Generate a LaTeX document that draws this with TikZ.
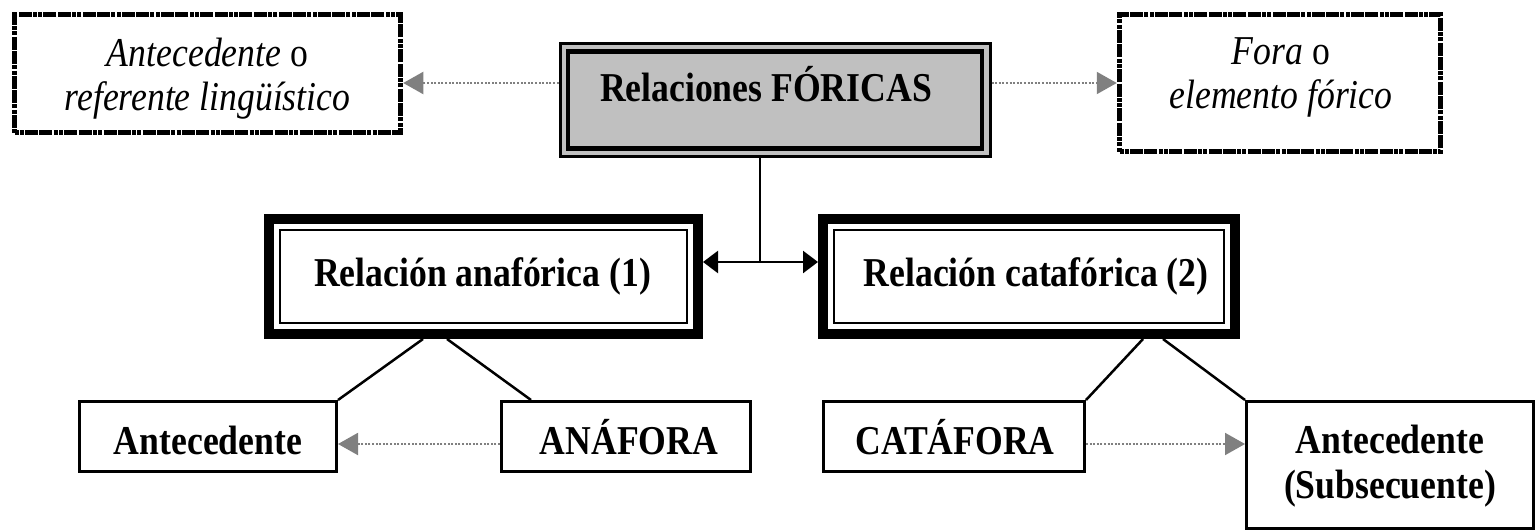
\documentclass[tikz,border=0pt]{standalone}
\usepackage{fontspec}
\setmainfont{Liberation Serif}[FakeStretch=0.87]
\usetikzlibrary{arrows.meta,calc}
\definecolor{boxgray}{RGB}{192,192,192}
\definecolor{arrgray}{RGB}{128,128,128}
\begin{document}
\begin{tikzpicture}[x=1pt,y=-1pt,
  btxt/.style={font=\fontsize{41}{45}\selectfont\bfseries, align=center, inner sep=0pt},
  itxt/.style={font=\fontsize{41}{44}\selectfont, align=center, inner sep=0pt},
  dotbox/.style={draw, line width=5.5pt, dash pattern={on 4pt off 1.3pt on 4pt off 1.3pt on 13pt off 1.3pt on 13pt off 1.3pt}, rectangle, inner sep=0pt},
  topouter/.style={draw, line width=3pt, rectangle, inner sep=0pt},
  topinner/.style={draw, line width=4.5pt, fill=boxgray, rectangle, inner sep=0pt},
  midouter/.style={draw, line width=10pt, rectangle, inner sep=0pt},
  midinner/.style={draw, line width=2.5pt, rectangle, inner sep=0pt},
  lowbox/.style={draw, line width=3pt, rectangle, inner sep=0pt},
  conn/.style={draw, line width=2.5pt},
  connarr/.style={conn, -{Triangle[length=15pt,width=22pt]}},
  grayarr/.style={draw=arrgray, line width=2pt, dash pattern={on 2pt off 1.6pt}, -{Triangle[length=20pt,width=22pt,fill=arrgray,color=arrgray]}}
]
\useasboundingbox (0,0) rectangle (1538,532);

% top row
\node[dotbox, minimum width=386pt, minimum height=118pt] (tl) at (207.5,73.5) {};
\node[itxt] (tltxt) at (207.5,79) {\textit{Antecedente} o\\\textit{referente lingüístico}};

\node[topouter, fill=boxgray, minimum width=430pt, minimum height=113pt] (top) at (775,100) {};
\node[topinner, minimum width=414pt, minimum height=97pt] (topin) at (775,100) {};
\node[btxt, anchor=base] (toptxt) at (766,102) {Relaciones FÓRICAS};

\node[dotbox, minimum width=321pt, minimum height=137pt] (tr) at (1280,83) {};
\node[itxt] (trtxt) at (1281,77) {\textit{Fora} o\\\textit{elemento fórico}};

\coordinate (topL) at (top.west |- 0,83);
\coordinate (topR) at (top.east |- 0,83);
\draw[grayarr] (topL) -- (topL -| tl.east);
\draw[grayarr] (topR) -- (topR -| tr.west);

% middle row
\node[midouter, minimum width=429pt, minimum height=115pt] (ana) at (483.5,276.5) {};
\node[midinner, minimum width=407pt, minimum height=93pt] (anain) at (483.5,276.5) {};
\node[btxt, anchor=base] (anatxt) at (482.5,286) {Relación anafórica (1)};

\node[midouter, minimum width=412pt, minimum height=115pt] (cat) at (1029,276.5) {};
\node[midinner, minimum width=390pt, minimum height=93pt] (catin) at (1029,276.5) {};
\node[btxt, anchor=base] (cattxt) at (1036,286) {Relación catafórica (2)};

\coordinate (tc) at (760,155);
\coordinate (j) at (760,262);
\draw[conn] (tc) -- (j);
\draw[connarr] (j) -- (j -| ana.east);
\draw[connarr] (j) -- (j -| cat.west);

% bottom row
\node[lowbox, minimum width=257pt, minimum height=70pt] (ante) at (208,436.5) {};
\node[btxt, anchor=base] (antetxt) at (208,454) {Antecedente};

\node[lowbox, minimum width=249pt, minimum height=70pt] (anaf) at (626,436.5) {};
\node[btxt, anchor=base] (anaftxt) at (629,454) {ANÁFORA};

\node[lowbox, minimum width=261pt, minimum height=70pt] (cataf) at (954,436.5) {};
\node[btxt, anchor=base] (catatxt) at (955,454) {CATÁFORA};

\node[lowbox, minimum width=287pt, minimum height=127pt] (subs) at (1390,465) {};
\node[btxt] (substxt) at (1390,466) {Antecedente\\(Subsecuente)};

% tree lines
\coordinate (a1) at (423,339);
\coordinate (a2) at (447,339);
\coordinate (c1) at (1143,339);
\coordinate (c2) at (1163,339);
\draw[conn] (a1) -- (ante.north east);
\draw[conn] (a2) -- ($(anaf.north west)+(31,0)$);
\draw[conn] (c1) -- (cataf.north east);
\draw[conn] (c2) -- (subs.north west);

% dotted arrows
\coordinate (la) at (anaf.west |- 0,444);
\coordinate (lc) at (cataf.east |- 0,444);
\draw[grayarr] (la) -- (la -| ante.east);
\draw[grayarr] (lc) -- (lc -| subs.west);
\end{tikzpicture}
\end{document}
